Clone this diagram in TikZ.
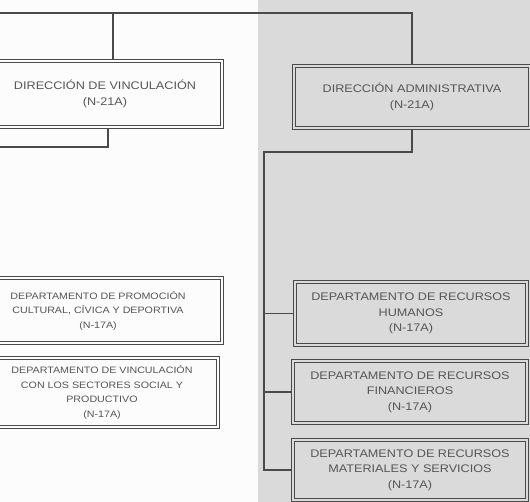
\documentclass[tikz,border=0pt]{standalone}
\usepackage{fontspec}
\newfontfamily\boxfont[FakeStretch=1.15]{Liberation Sans}
\definecolor{linegray}{HTML}{4A4A4A}
\definecolor{textgray}{HTML}{555555}
\definecolor{paper}{HTML}{FCFCFC}
\definecolor{scangray}{HTML}{DADADA}
\tikzset{
  orgbox/.style={draw=linegray, line width=1.1pt, double=#1, double distance=2.2pt,
    fill=#1, align=center, inner sep=0pt, text=textgray, font=\boxfont},
  link/.style={draw=linegray, line width=1.3pt},
  big/.style={font=\boxfont\fontsize{11}{15.5}\selectfont},
  small/.style={font=\boxfont\fontsize{9.3}{14.5}\selectfont}
}
\begin{document}
\begin{tikzpicture}[x=1pt,y=-1pt]
\useasboundingbox (0,0) rectangle (530,502);
\fill[paper] (0,0) rectangle (258,502);
\fill[scangray] (258,0) rectangle (530,502);
\clip (0,0) rectangle (530,502);

% boxes
\node[orgbox=paper, big, minimum width=234pt, minimum height=66pt] (DV) at (105,94)
  {DIRECCIÓN DE VINCULACIÓN\\(N-21A)};
\node[orgbox=scangray, big, minimum width=236pt, minimum height=62pt] (DA) at (412,97)
  {DIRECCIÓN ADMINISTRATIVA\\(N-21A)};
\node[orgbox=paper, small, minimum width=248pt, minimum height=65pt] (DC) at (98,310.5)
  {DEPARTAMENTO DE PROMOCIÓN\\CULTURAL, CÍVICA Y DEPORTIVA\\(N-17A)};
\node[orgbox=paper, small, minimum width=232pt, minimum height=69pt] (DS) at (102,392.5)
  {DEPARTAMENTO DE VINCULACIÓN\\CON LOS SECTORES SOCIAL Y\\PRODUCTIVO\\(N-17A)};
\node[orgbox=scangray, big, minimum width=232pt, minimum height=63pt] (RH) at (411,313.5)
  {DEPARTAMENTO DE RECURSOS\\HUMANOS\\(N-17A)};
\node[orgbox=scangray, big, minimum width=234pt, minimum height=62pt] (RF) at (410,392)
  {DEPARTAMENTO DE RECURSOS\\FINANCIEROS\\(N-17A)};
\node[orgbox=scangray, big, minimum width=234pt, minimum height=60pt] (RM) at (410,470)
  {DEPARTAMENTO DE RECURSOS\\MATERIALES Y SERVICIOS\\(N-17A)};

% connectors
\coordinate (top) at (0,13);
\coordinate (j1) at (113,13);
\coordinate (lft) at (0,147);
\coordinate (bend) at (264,152);
\draw[link] (top) -| (DA.north);
\draw[link] (j1) -- (j1 |- DV.north);
\draw[link] ([xshift=3pt]DV.south) |- (lft);
\draw[link] (DA.south) |- (bend) -- (bend |- RM.west) -- (RM.west);
\draw[link] (bend |- RH.west) -- (RH.west);
\draw[link] (bend |- RF.west) -- (RF.west);
\end{tikzpicture}
\end{document}
